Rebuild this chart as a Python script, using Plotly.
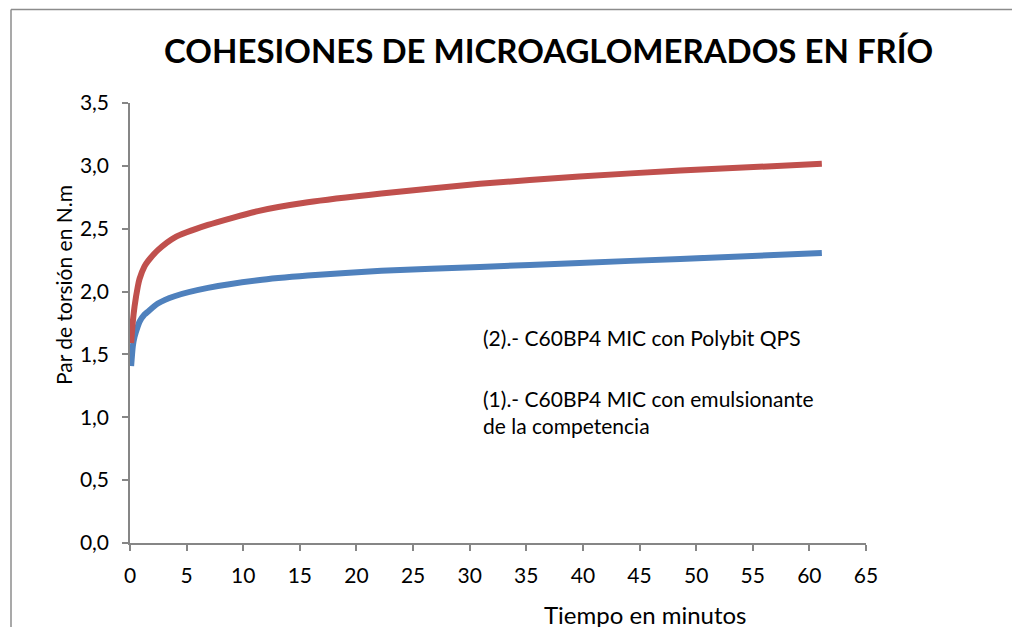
import plotly.graph_objects as go

# Data
tiempo_min = [0.1, 0.25, 0.4, 0.69, 0.84, 1.28, 1.57, 2.46, 3.93, 6.88, 11.3, 15.7, 22.2, 30.9, 39.7, 48.6, 61.1]
polybit_qps = [1.59, 1.76, 1.88, 2.04, 2.10, 2.20, 2.24, 2.33, 2.43, 2.53, 2.64, 2.71, 2.78, 2.857, 2.915, 2.963, 3.016]
competencia = [1.407, 1.566, 1.64, 1.725, 1.76, 1.817, 1.84, 1.905, 1.963, 2.029, 2.09, 2.127, 2.165, 2.196, 2.228, 2.26, 2.307]

x_ticks = list(range(0, 70, 5))
y_ticks = [0, 0.5, 1.0, 1.5, 2.0, 2.5, 3.0, 3.5]

title_text = "COHESIONES DE MICROAGLOMERADOS EN FRÍO"
x_title = "Tiempo en minutos"
y_title = "Par de torsión en N.m"
label_2 = "(2).- C60BP4 MIC con Polybit QPS"
label_1 = "(1).- C60BP4 MIC con emulsionante<br>de la competencia"

OFF = 8  # page body margin
W, H = 1020 - OFF, 627 - OFF
PW, PH = 736, 440
L, T = 130 - OFF, 103 - OFF
R, B = W - L - PW, H - T - PH

def px(xpix):
    return (xpix - OFF - L) / PW

def py(ypix):
    return (T + PH - (ypix - OFF)) / PH

FONT = "Lato, Open Sans, sans-serif"
AX = "#868686"
FRAME = dict(color="#8C8C8C", width=1.5)

fig = go.Figure()
fig.add_trace(go.Scatter(x=tiempo_min, y=competencia, mode="lines",
                         line=dict(color="#4F81BD", width=6, shape="spline", smoothing=0.6),
                         name="(1)", showlegend=False))
fig.add_trace(go.Scatter(x=tiempo_min, y=polybit_qps, mode="lines",
                         line=dict(color="#C0504D", width=6, shape="spline", smoothing=0.6),
                         name="(2)", showlegend=False))

fig.update_layout(
    width=W, height=H,
    margin=dict(l=L, r=R, t=T, b=B, pad=0),
    paper_bgcolor="white", plot_bgcolor="white",
    separators=",.",
    font=dict(family=FONT, color="#000000", size=21),
    xaxis=dict(range=[0, 65], tickvals=x_ticks, showgrid=False, zeroline=False,
               showline=True, linecolor=AX, linewidth=1.5, ticks="outside",
               ticklen=6, tickcolor=AX, tickwidth=1.5,
               tickfont=dict(size=21, family=FONT, color="#000"),
               ticklabelstandoff=7),
    yaxis=dict(range=[0, 3.5], tickvals=y_ticks, tickformat=".1f", showgrid=False,
               zeroline=False, showline=True, linecolor=AX, linewidth=1.5,
               ticks="outside", ticklen=6, tickcolor=AX, tickwidth=1.5,
               tickfont=dict(size=21, family=FONT, color="#000"),
               ticklabelstandoff=9),
    shapes=[
        dict(type="line", xref="paper", yref="paper",
             x0=px(11), x1=px(1020), y0=py(9.5), y1=py(9.5), line=FRAME, layer="below"),
        dict(type="line", xref="paper", yref="paper",
             x0=px(11), x1=px(11), y0=py(9.5), y1=py(627), line=FRAME, layer="below"),
    ],
    annotations=[
        dict(text="<b>" + title_text + "</b>", x=px(548), y=py(50), xref="paper", yref="paper",
             showarrow=False, font=dict(size=33, family=FONT, color="#000"), xanchor="center", yanchor="middle"),
        dict(text=x_title, x=px(645), y=py(614), xref="paper", yref="paper",
             showarrow=False, font=dict(size=24, family=FONT, color="#000"), xanchor="center", yanchor="middle"),
        dict(text=y_title, x=px(63), y=py(285), xref="paper", yref="paper", textangle=-90,
             showarrow=False, font=dict(size=21, family=FONT, color="#000"), xanchor="center", yanchor="middle"),
        dict(text=label_2, x=px(481), y=py(337), xref="paper", yref="paper",
             showarrow=False, font=dict(size=21, family=FONT, color="#000"), xanchor="left", yanchor="middle", align="left"),
        dict(text=label_1, x=px(481), y=py(412), xref="paper", yref="paper",
             showarrow=False, font=dict(size=21, family=FONT, color="#000"), xanchor="left", yanchor="middle",
             align="left"),
    ],
)

fig.write_html("out.html")
